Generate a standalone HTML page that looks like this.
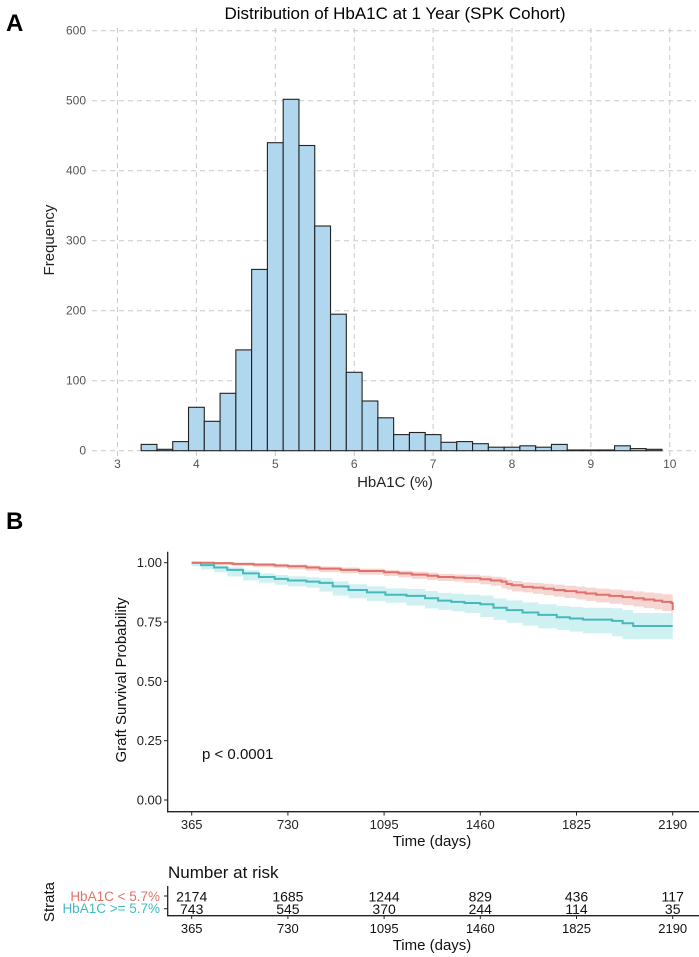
<!DOCTYPE html>
<html><head><meta charset="utf-8"><style>
body{margin:0;background:#fff}
svg{display:block;font-family:"Liberation Sans",sans-serif}
</style></head><body>
<svg id="fig" width="699" height="957" viewBox="0 0 699 957">
<text x="6" y="31" font-size="24" font-weight="bold">A</text>
<text x="395" y="19" font-size="17" text-anchor="middle">Distribution of HbA1C at 1 Year (SPK Cohort)</text>
<g id="hist"></g>
<text x="395" y="487" font-size="15" text-anchor="middle" fill="#222">HbA1C (%)</text>
<text transform="translate(54,240) rotate(-90)" font-size="15" text-anchor="middle" fill="#222">Frequency</text>

<text x="6" y="529" font-size="24" font-weight="bold">B</text>
<g id="km"></g>
<text transform="translate(126,680) rotate(-90)" font-size="15" text-anchor="middle" fill="#111">Graft Survival Probability</text>
<text x="432" y="846" font-size="15" text-anchor="middle" fill="#111">Time (days)</text>
<text x="202" y="759" font-size="15" fill="#111">p &lt; 0.0001</text>
<text x="168" y="878" font-size="17" fill="#111">Number at risk</text>
<text transform="translate(54,902) rotate(-90)" font-size="15" text-anchor="middle" fill="#111">Strata</text>
<text x="160" y="901" font-size="13.5" text-anchor="end" fill="#e0736b">HbA1C &lt; 5.7%</text>
<text x="160" y="913" font-size="13.5" text-anchor="end" fill="#3fbcc0">HbA1C &gt;= 5.7%</text>
<g id="risk"></g>
<text x="432" y="950" font-size="15" text-anchor="middle" fill="#111">Time (days)</text>
</svg>
<script>
const NS="http://www.w3.org/2000/svg";
// Histogram data
const binStart=3.1, binWidth=0.2;
const counts=[0,9,2,13,62,42,82,144,259,440,502,436,321,195,112,71,47,23,26,23,12,13,10,5,5,7,5,9,1,1,1,7,3,2];
const histXTicks=[3,4,5,6,7,8,9,10];
const histYTicks=[0,100,200,300,400,500,600];
// KM data
const kmTicks=[365,730,1095,1460,1825,2190];
const kmYTicks=[0,0.25,0.5,0.75,1.0];
const redT=[365,450,520,600,680,730,800,850,930,1000,1095,1150,1200,1260,1300,1360,1400,1460,1500,1540,1560,1580,1620,1660,1700,1740,1780,1825,1860,1900,1950,2000,2040,2080,2120,2150,2185,2190];
const redS=[1.0,0.998,0.995,0.992,0.988,0.985,0.98,0.975,0.97,0.965,0.96,0.955,0.95,0.945,0.94,0.937,0.935,0.93,0.925,0.92,0.91,0.905,0.898,0.895,0.89,0.885,0.88,0.875,0.87,0.865,0.86,0.855,0.85,0.845,0.84,0.835,0.83,0.80];
const redLo=[1.0,0.994,0.99,0.986,0.981,0.978,0.972,0.966,0.96,0.955,0.95,0.944,0.938,0.932,0.927,0.923,0.92,0.915,0.909,0.903,0.892,0.887,0.879,0.875,0.869,0.863,0.857,0.851,0.845,0.839,0.833,0.827,0.821,0.815,0.809,0.803,0.796,0.764];
const redHi=[1.0,1.0,1.0,0.998,0.995,0.992,0.988,0.984,0.98,0.975,0.97,0.966,0.962,0.958,0.953,0.951,0.95,0.945,0.941,0.937,0.928,0.923,0.917,0.915,0.911,0.907,0.903,0.899,0.895,0.891,0.887,0.883,0.879,0.875,0.871,0.867,0.864,0.836];
const tealT=[365,400,450,500,560,620,680,730,800,850,900,960,1030,1100,1180,1250,1300,1350,1400,1460,1510,1560,1620,1680,1750,1800,1850,1960,2000,2040,2190];
const tealS=[1.0,0.99,0.98,0.97,0.955,0.94,0.932,0.925,0.92,0.915,0.9,0.885,0.875,0.865,0.86,0.85,0.84,0.835,0.83,0.825,0.81,0.80,0.79,0.78,0.77,0.765,0.76,0.755,0.745,0.733,0.733];
const tealLo=[1.0,0.985,0.972,0.959,0.942,0.925,0.916,0.907,0.901,0.895,0.878,0.861,0.85,0.838,0.831,0.819,0.807,0.801,0.795,0.788,0.771,0.759,0.747,0.735,0.723,0.716,0.71,0.702,0.69,0.678,0.678];
const tealHi=[1.0,0.995,0.988,0.981,0.968,0.955,0.948,0.943,0.939,0.935,0.922,0.909,0.9,0.892,0.889,0.881,0.873,0.869,0.865,0.862,0.849,0.841,0.833,0.825,0.817,0.814,0.81,0.808,0.8,0.788,0.788];
const riskLow=[2174,1685,1244,829,436,117];
const riskHigh=[743,545,370,244,114,35];

function el(tag,attrs,parent){const e=document.createElementNS(NS,tag);for(const k in attrs)e.setAttribute(k,attrs[k]);parent.appendChild(e);return e;}

const hx=v=>117.5+(v-3)*78.9;
const hy=v=>450.7-v*0.7;
const H=document.getElementById('hist');
histYTicks.forEach(t=>{
  const l=el('line',{x1:92,x2:696,y1:hy(t),y2:hy(t),stroke:'#c8c8c8','stroke-dasharray':'5,4','stroke-width':1},H);
  
  
  const tx=el('text',{x:86,y:hy(t)+4,'font-size':12,'text-anchor':'end',fill:'#555'},H);
  tx.textContent=t;
  
  
});
histXTicks.forEach(t=>{
  const l=el('line',{x1:hx(t),x2:hx(t),y1:28,y2:456,stroke:'#c8c8c8','stroke-dasharray':'5,4','stroke-width':1},H);
  
  
  const tx=el('text',{x:hx(t),y:468,'font-size':12,'text-anchor':'middle',fill:'#555'},H);
  tx.textContent=t;
  
  
});
counts.forEach((c,i)=>{
  const x0=hx(binStart+i*binWidth), x1=hx(binStart+(i+1)*binWidth);
  const r=el('rect',{x:x0,y:hy(c),width:x1-x0,height:hy(0)-hy(c),fill:'#b1d7ee',stroke:'#222','stroke-width':1.1},H);
  
  
});

const kx=t=>191.7+(t-365)*(96.2/365);
const ky=s=>800-s*237.3;
const K=document.getElementById('km');
function stepPath(T,S){let d='M'+kx(T[0])+','+ky(S[0]);for(let i=1;i<T.length;i++){d+='H'+kx(T[i])+'V'+ky(S[i]);}return d;}
function band(T,L,U){let d='M'+kx(T[0])+','+ky(U[0]);for(let i=1;i<T.length;i++){d+='H'+kx(T[i])+'V'+ky(U[i]);}
  d+='V'+ky(L[T.length-1]);for(let i=T.length-1;i>0;i--){d+='V'+ky(L[i])+'H'+kx(T[i-1]);}d+='V'+ky(L[0])+'Z';return d;}
let p;
p=el('path',{d:band(redT,redLo,redHi),fill:'#f2c4c0',opacity:0.7},K);


p=el('path',{d:band(tealT,tealLo,tealHi),fill:'#bfecee',opacity:0.75},K);


p=el('path',{d:stepPath(tealT,tealS),fill:'none',stroke:'#47b9bb','stroke-width':2},K);


p=el('path',{d:stepPath(redT,redS),fill:'none',stroke:'#e0706a','stroke-width':2},K);


let a=el('line',{x1:167.7,x2:167.7,y1:551.7,y2:812.5,stroke:'#222','stroke-width':1.3},K);


a=el('line',{x1:167,x2:699,y1:811.7,y2:811.7,stroke:'#222','stroke-width':1.3},K);


kmYTicks.forEach(s=>{
  const l=el('line',{x1:164,x2:167.7,y1:ky(s),y2:ky(s),stroke:'#222'},K);
  
  
  const t=el('text',{x:162,y:ky(s)+4.5,'font-size':13,'text-anchor':'end',fill:'#222'},K);
  t.textContent=s.toFixed(2);
  
  
});
kmTicks.forEach(v=>{
  const l=el('line',{x1:kx(v),x2:kx(v),y1:811.7,y2:815.5,stroke:'#222'},K);
  
  
  const t=el('text',{x:kx(v),y:829,'font-size':13,'text-anchor':'middle',fill:'#222'},K);
  t.textContent=v;
  
  
});
const R=document.getElementById('risk');
a=el('line',{x1:167.7,x2:167.7,y1:886,y2:916,stroke:'#222','stroke-width':1.3},R);


a=el('line',{x1:167,x2:699,y1:915.7,y2:915.7,stroke:'#222','stroke-width':1.3},R);


[896,908.7].forEach(y=>{const l=el('line',{x1:164,x2:167.7,y1:y,y2:y,stroke:'#222'},R);
  
  });
kmTicks.forEach((v,i)=>{
  let t=el('text',{x:kx(v),y:901.5,'font-size':14,'text-anchor':'middle',fill:'#111'},R);
  t.textContent=riskLow[i];
  
  
  t=el('text',{x:kx(v),y:914,'font-size':14,'text-anchor':'middle',fill:'#111'},R);
  t.textContent=riskHigh[i];
  
  
  const l=el('line',{x1:kx(v),x2:kx(v),y1:915.7,y2:919,stroke:'#222'},R);
  
  
  t=el('text',{x:kx(v),y:933,'font-size':13,'text-anchor':'middle',fill:'#111'},R);
  t.textContent=v;
  
  
});
</script>
</body></html>
